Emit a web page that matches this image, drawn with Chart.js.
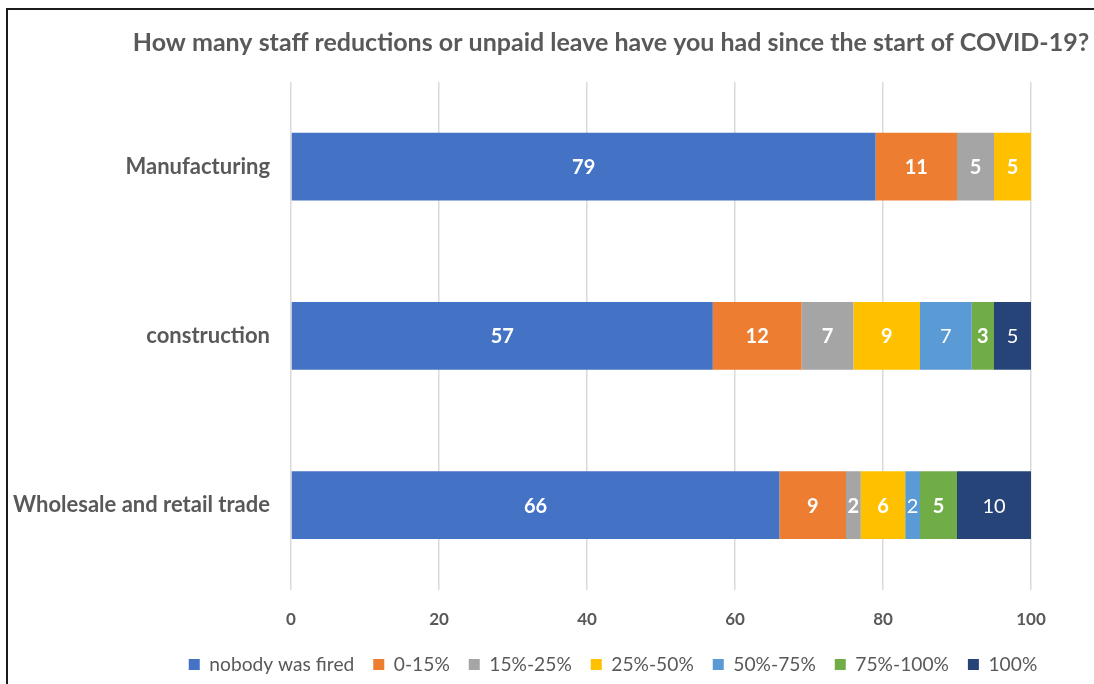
<!DOCTYPE html>
<html>
<head>
<meta charset="utf-8">
<script src="https://cdn.jsdelivr.net/npm/chart.js@4.4.1/dist/chart.umd.min.js"></script>
<style>
  html, body { margin: 0; padding: 0; background: #fff; overflow: hidden; }
  #wrap { position: relative; width: 1094px; height: 684px; }
  #frame { position: absolute; left: 6px; top: 8px; width: 1200px; height: 800px;
           border-top: 2px solid #1c1c1c; border-left: 2px solid #1c1c1c; pointer-events: none; }
  canvas { position: absolute; left: 0; top: 0; }
</style>
</head>
<body>
<div id="wrap">
  <canvas id="c" width="1094" height="684"></canvas>
  <div id="frame"></div>
</div>
<script>
// Survey sectors and answer shares (percent of respondents)
const titleText = 'How many staff reductions or unpaid leave have you had since the start of COVID-19?';
const sectors = ['Manufacturing', 'construction', 'Wholesale and retail trade'];
const seriesNames = ['nobody was fired', '0-15%', '15%-25%', '25%-50%', '50%-75%', '75%-100%', '100%'];
const nobodyFired = [79, 57, 66];
const share0to15 = [11, 12, 9];
const share15to25 = [5, 7, 2];
const share25to50 = [5, 9, 6];
const share50to75 = [0, 7, 2];
const share75to100 = [0, 3, 5];
const shareAll = [0, 5, 10];
const xTicks = [0, 20, 40, 60, 80, 100];

const seriesValues = [nobodyFired, share0to15, share15to25, share25to50, share50to75, share75to100, shareAll];
const seriesColors = ['#4472C4', '#ED7D31', '#A5A5A5', '#FFC000', '#5B9BD5', '#70AD47', '#264478'];
const labelWeights = ['bold', 'bold', 'bold', 'bold', 'normal', 'bold', 'normal'];

const FONT = 'Lato, "Open Sans", sans-serif';
const GREY = '#595959';

// Title drawn centred over the plot region
const titlePlugin = {
  id: 'topTitle',
  afterDraw(chart) {
    const ctx = chart.ctx;
    ctx.save();
    ctx.font = 'bold 25px ' + FONT;
    ctx.fillStyle = GREY;
    ctx.textAlign = 'center';
    ctx.textBaseline = 'middle';
    ctx.fillText(titleText, 611, 43);
    ctx.restore();
  }
};

// Centre the legend row under the title rather than the whole canvas
const legendShift = {
  id: 'legendShift',
  afterLayout(chart) {
    const lg = chart.legend;
    if (lg) { lg.left = 132; lg.right = 1094; lg.width = lg.right - lg.left; }
  }
};

// Value labels in the middle of each bar segment
const valueLabels = {
  id: 'valueLabels',
  afterDatasetsDraw(chart) {
    const ctx = chart.ctx;
    ctx.save();
    ctx.textAlign = 'center';
    ctx.textBaseline = 'middle';
    ctx.fillStyle = '#ffffff';
    chart.data.datasets.forEach((ds, i) => {
      const meta = chart.getDatasetMeta(i);
      ctx.font = labelWeights[i] + ' 20px ' + FONT;
      meta.data.forEach((el, j) => {
        const v = ds.data[j];
        if (!v) return;
        const p = el.getCenterPoint();
        ctx.fillText(String(v), p.x, p.y + 1);
      });
    });
    ctx.restore();
  }
};

new Chart(document.getElementById('c'), {
  type: 'bar',
  data: {
    labels: sectors,
    datasets: seriesNames.map((name, i) => ({
      label: name,
      data: seriesValues[i],
      backgroundColor: seriesColors[i],
      borderWidth: 0,
      categoryPercentage: 1.0,
      barPercentage: 0.4
    }))
  },
  options: {
    indexAxis: 'y',
    responsive: false,
    animation: false,
    layout: { padding: { top: 82, right: 63, bottom: 0, left: 0 } },
    scales: {
      x: {
        stacked: true,
        min: 0,
        max: 100,
        afterBuildTicks(scale) { scale.ticks = xTicks.map(v => ({ value: v })); },
        grid: { color: '#D9D9D9', lineWidth: 1.5, drawTicks: false },
        border: { display: false },
        ticks: { color: GREY, font: { family: FONT, size: 17, weight: 'bold' }, padding: 20 },
        afterFit(scale) { scale.height = 46; }
      },
      y: {
        stacked: true,
        grid: { display: false },
        border: { display: false },
        ticks: { color: GREY, font: { family: FONT, size: 22, weight: 'bold' }, padding: 13 },
        afterFit(scale) { scale.width = 291; }
      }
    },
    plugins: {
      legend: {
        position: 'bottom',
        labels: {
          color: GREY,
          font: { family: FONT, size: 19.2 },
          boxWidth: 11,
          boxHeight: 11,
          padding: 19
        }
      },
      tooltip: { enabled: false },
      title: { display: false }
    }
  },
  plugins: [titlePlugin, legendShift, valueLabels]
});
</script>
</body>
</html>
